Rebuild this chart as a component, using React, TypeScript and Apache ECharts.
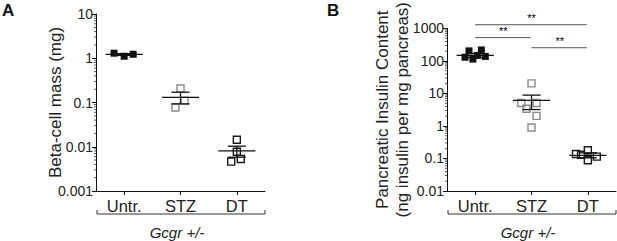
import React, { useEffect, useRef } from "react";
import * as echarts from "echarts";

// ---- data ----
const categories = ["Untr.", "STZ", "DT"];

// Panel A: Beta-cell mass (mg)
const massUntr = [1.3, 1.11, 1.23];
const massUntrJitter = [-0.18, 0, 0.16];
const massStz = [0.208, 0.11, 0.077];
const massStzJitter = [0, 0.07, -0.09];
const massDt = [0.0144, 0.0077, 0.0053, 0.0046];
const massDtJitter = [0, 0, 0.07, -0.1];
const massMean = [1.22, 0.13, 0.0081];
const massSemLow = [1.16, 0.093, 0.0058];
const massSemHigh = [1.27, 0.171, 0.0103];
const massTickLabels = ["0.001", "0.01", "0.1", "1", "10"];

// Panel B: Pancreatic insulin content
const insUntr = [130, 204, 114, 148, 218, 138];
const insUntrJitter = [-0.18, -0.11, -0.04, 0.04, 0.11, 0.18];
const insStz = [20.5, 5.1, 5.1, 3.4, 2.05, 0.9];
const insStzJitter = [0, -0.18, 0.09, -0.09, 0.09, 0];
const insDt = [0.138, 0.13, 0.18, 0.088, 0.114];
const insDtJitter = [-0.21, -0.12, 0, 0, 0.16];
const insMean = [148, 6.1, 0.125];
const insSemLow = [128, 3.2, 0.105];
const insSemHigh = [170, 8.9, 0.15];
const insTickLabels = ["0.01", "0.1", "1", "10", "100", "1000"];

// significance brackets: [fromCategory, toCategory, level]
const sigFrom = [0, 0, 1];
const sigTo = [2, 1, 2];
const sigLevel = [1300, 522, 255];
const sigText = ["**", "**", "**"];

const FONT = "Liberation Sans, Arial, Helvetica, sans-serif";
const TEXT = "#222";

function pts(vals: number[], jit: number[], cat: number) {
  return vals.map((v, i) => [cat + jit[i], v]);
}

function minorValues(minExp: number, maxExp: number) {
  const out: number[][] = [];
  for (let e = minExp; e < maxExp; e++) {
    for (let k = 2; k <= 9; k++) out.push([-0.5, k * Math.pow(10, e)]);
  }
  return out;
}

function tickLabelFormatter(labels: string[], minExp: number) {
  return (v: number) => {
    const idx = Math.round(Math.log10(v)) - minExp;
    return labels[idx] ?? "";
  };
}

function meanSemSeries(xi: number, yi: number, mean: number[], lo: number[], hi: number[]) {
  return {
    type: "custom",
    xAxisIndex: xi,
    yAxisIndex: yi,
    silent: true,
    clip: false,
    z: 5,
    data: mean.map((m, i) => [i, m, lo[i], hi[i]]),
    renderItem: (params: any, api: any) => {
      const c = api.value(0);
      const unit = api.size([1, 0])[0];
      const pm = api.coord([c, api.value(1)]);
      const pl = api.coord([c, api.value(2)]);
      const ph = api.coord([c, api.value(3)]);
      const mw = unit * 0.33;
      const sw = unit * 0.16;
      const st = { stroke: "#111", lineWidth: 1.3 };
      return {
        type: "group",
        children: [
          { type: "line", shape: { x1: pm[0] - mw, y1: pm[1], x2: pm[0] + mw, y2: pm[1] }, style: st },
          { type: "line", shape: { x1: pm[0], y1: pl[1], x2: pm[0], y2: ph[1] }, style: st },
          { type: "line", shape: { x1: pm[0] - sw, y1: pl[1], x2: pm[0] + sw, y2: pl[1] }, style: st },
          { type: "line", shape: { x1: pm[0] - sw, y1: ph[1], x2: pm[0] + sw, y2: ph[1] }, style: st },
        ],
      };
    },
  };
}

function minorTickSeries(xi: number, yi: number, minExp: number, maxExp: number) {
  return {
    type: "custom",
    xAxisIndex: xi,
    yAxisIndex: yi,
    silent: true,
    clip: false,
    data: minorValues(minExp, maxExp),
    renderItem: (params: any, api: any) => {
      const p = api.coord([api.value(0), api.value(1)]);
      return {
        type: "line",
        shape: { x1: p[0] - 2, y1: p[1], x2: p[0], y2: p[1] },
        style: { stroke: "#333", lineWidth: 0.8 },
      };
    },
  };
}

function scatter(xi: number, yi: number, data: number[][], fill: string, border: string) {
  return {
    type: "scatter",
    xAxisIndex: xi,
    yAxisIndex: yi,
    symbol: "rect",
    symbolSize: 7,
    z: 4,
    data,
    itemStyle: { color: fill, borderColor: border, borderWidth: fill === "transparent" ? 1.4 : 0, opacity: 1 },
  };
}

export default function App() {
  const ref = useRef<HTMLDivElement>(null);
  useEffect(() => {
    if (!ref.current) return;
    const chart = echarts.init(ref.current, undefined, { renderer: "svg" });

    const catAxis = (gi: number) => ({
      type: "category",
      gridIndex: gi,
      data: categories,
      position: "bottom",
      axisLine: { show: true, onZero: false, lineStyle: { color: "#111", width: 1 } },
      axisTick: { show: true, alignWithLabel: true, length: 4, lineStyle: { color: "#111" } },
      axisLabel: { fontSize: 16.5, color: TEXT, fontFamily: FONT, margin: 6 },
      splitLine: { show: false },
    });
    const valX = (gi: number) => ({
      type: "value",
      gridIndex: gi,
      min: -0.5,
      max: 2.5,
      show: false,
      axisLine: { onZero: false },
      splitLine: { show: false },
    });
    const logY = (gi: number, min: number, max: number, labels: string[], minExp: number, name: string, nameGap: number) => ({
      type: "log",
      logBase: 10,
      gridIndex: gi,
      min,
      max,
      name,
      nameLocation: "middle",
      nameGap,
      nameMoveOverlap: false,
      nameTextStyle: { fontSize: 17, color: TEXT, fontFamily: FONT, lineHeight: 20 },
      axisLine: { show: true, onZero: false, lineStyle: { color: "#111", width: 1 } },
      axisTick: { show: true, length: 4, lineStyle: { color: "#111" } },
      axisLabel: { fontSize: 14, color: TEXT, fontFamily: FONT, margin: 3, formatter: tickLabelFormatter(labels, minExp) },
      splitLine: { show: false },
      minorTick: { show: false },
    });

    const option: any = {
      animation: false,
      textStyle: { fontFamily: FONT },
      grid: [
        { left: 96, top: 14, width: 169, height: 177 },
        { left: 447, top: 14, width: 169, height: 177 },
      ],
      xAxis: [catAxis(0), valX(0), catAxis(1), valX(1)],
      yAxis: [
        logY(0, 0.001, 10, massTickLabels, -3, "Beta-cell mass (mg)", 31),
        logY(1, 0.01, 1000, insTickLabels, -2, "Pancreatic Insulin Content\n(ng insulin per mg pancreas)", 35),
      ],
      series: [
        minorTickSeries(1, 0, -3, 1),
        minorTickSeries(3, 1, -2, 3),
        scatter(1, 0, pts(massUntr, massUntrJitter, 0), "#111", "#111"),
        scatter(1, 0, pts(massStz, massStzJitter, 1), "transparent", "#8a8a8a"),
        scatter(1, 0, pts(massDt, massDtJitter, 2), "transparent", "#1a1a1a"),
        meanSemSeries(1, 0, massMean, massSemLow, massSemHigh),
        scatter(3, 1, pts(insUntr, insUntrJitter, 0), "#111", "#111"),
        scatter(3, 1, pts(insStz, insStzJitter, 1), "transparent", "#8a8a8a"),
        scatter(3, 1, pts(insDt, insDtJitter, 2), "transparent", "#1a1a1a"),
        meanSemSeries(3, 1, insMean, insSemLow, insSemHigh),
        {
          type: "custom",
          xAxisIndex: 3,
          yAxisIndex: 1,
          silent: true,
          clip: false,
          data: sigLevel.map((l, i) => [sigFrom[i], sigTo[i], l, i]),
          renderItem: (params: any, api: any) => {
            const a = api.coord([api.value(0), api.value(2)]);
            const b = api.coord([api.value(1), api.value(2)]);
            return {
              type: "group",
              children: [
                { type: "line", shape: { x1: a[0], y1: a[1], x2: b[0] - 1, y2: b[1] }, style: { stroke: "#555", lineWidth: 1 } },
                {
                  type: "text",
                  x: (a[0] + b[0]) / 2,
                  y: a[1] - 1,
                  style: { text: sigText[api.value(3)], fontSize: 11, fill: "#000", align: "center", verticalAlign: "bottom", fontFamily: FONT },
                },
              ],
            };
          },
        },
      ],
      graphic: [
        { type: "text", left: 2, top: 2, style: { text: "A", fontSize: 17, fontWeight: "bold", fill: "#111", fontFamily: FONT } },
        { type: "text", left: 327, top: 2, style: { text: "B", fontSize: 17, fontWeight: "bold", fill: "#111", fontFamily: FONT } },
        { type: "polyline", shape: { points: [[97, 210], [97, 214], [265, 214], [265, 210]] }, style: { stroke: "#333", lineWidth: 1, fill: "none" } },
        { type: "polyline", shape: { points: [[448, 210], [448, 214], [616, 214], [616, 210]] }, style: { stroke: "#333", lineWidth: 1, fill: "none" } },
        { type: "text", x: 177, y: 232, style: { text: "Gcgr +/-", fontSize: 15, fontStyle: "italic", fill: TEXT, align: "center", verticalAlign: "middle", fontFamily: FONT } },
        { type: "text", x: 528, y: 232, style: { text: "Gcgr +/-", fontSize: 15, fontStyle: "italic", fill: TEXT, align: "center", verticalAlign: "middle", fontFamily: FONT } },
      ],
    };
    chart.setOption(option);
    return () => chart.dispose();
  }, []);
  return (
    <div
      ref={ref}
      style={{ position: "absolute", left: 0, top: 0, width: 617, height: 241, background: "#fff" }}
    />
  );
}
